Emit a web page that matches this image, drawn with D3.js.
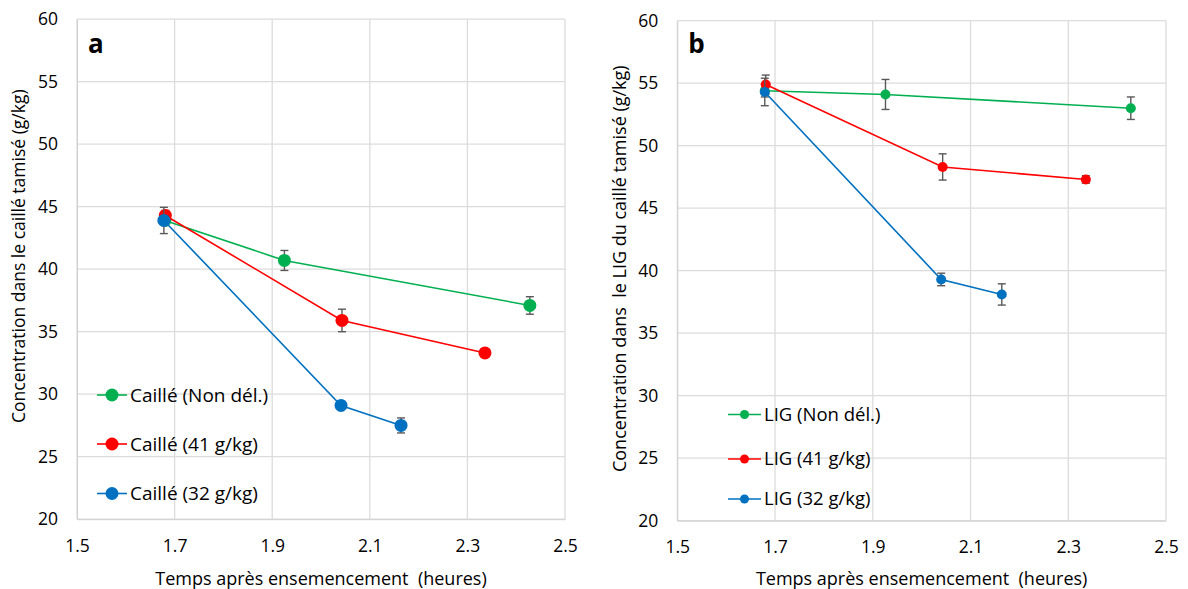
<!DOCTYPE html>
<html><head><meta charset="utf-8">
<script src="https://cdn.jsdelivr.net/npm/d3@7"></script>
<style>body{margin:0;background:#fff}svg{display:block}text{font-family:"Open Sans",sans-serif;fill:#000}</style>
</head><body>
<svg id="chart" width="1188" height="589"></svg>
<script>
// ---- data ----
const xTicks = [1.5, 1.7, 1.9, 2.1, 2.3, 2.5];
const yTicks = [20, 25, 30, 35, 40, 45, 50, 55, 60];
const seriesColors = ["#00b050", "#ff0000", "#0070c0"];

// Panel a : Caillé
const labelsA = ["Caillé (Non dél.)", "Caillé (41 g/kg)", "Caillé (32 g/kg)"];
const timesA_non = [1.680, 1.925, 2.428];
const valsA_non  = [43.9, 40.7, 37.1];
const errA_non   = [0.4, 0.8, 0.7];
const timesA_41  = [1.681, 2.043, 2.336];
const valsA_41   = [44.3, 35.9, 33.3];
const errA_41    = [0.4, 0.9, 0.3];
const timesA_32  = [1.678, 2.041, 2.164];
const valsA_32   = [43.9, 29.1, 27.5];
const errA_32    = [1.05, 0.25, 0.6];

// Panel b : LIG
const labelsB = ["LIG (Non dél.)", "LIG (41 g/kg)", "LIG (32 g/kg)"];
const timesB_non = [1.679, 1.926, 2.428];
const valsB_non  = [54.4, 54.1, 53.0];
const errB_non   = [0.5, 1.2, 0.9];
const timesB_41  = [1.681, 2.043, 2.336];
const valsB_41   = [54.9, 48.3, 47.3];
const errB_41    = [0.75, 1.05, 0.3];
const timesB_32  = [1.679, 2.040, 2.164];
const valsB_32   = [54.3, 39.3, 38.1];
const errB_32    = [1.1, 0.5, 0.85];

const svg = d3.select("#chart");

function build(times, vals, errs){ return times.map((t,i)=>({x:t, y:vals[i], e:errs[i]})); }

function drawPanel(cfg){
  const g = svg.append("g");
  const x = d3.scaleLinear().domain([1.5, 2.5]).range([cfg.left, cfg.right]);
  const y = d3.scaleLinear().domain([20, 60]).range([cfg.bottom, cfg.top]);

  // grid
  g.append("g").selectAll("line.v").data(xTicks).join("line")
    .attr("x1", d=>x(d)).attr("x2", d=>x(d)).attr("y1", y(20)).attr("y2", y(60))
    .attr("stroke", "#dcdcdc").attr("stroke-width", 1.3);
  g.append("g").selectAll("line.h").data(yTicks).join("line")
    .attr("x1", x(1.5)).attr("x2", x(2.5)).attr("y1", d=>y(d)).attr("y2", d=>y(d))
    .attr("stroke", "#dcdcdc").attr("stroke-width", 1.3);

  // axes via d3
  const ax = g.append("g").attr("transform", `translate(0,${y(20)})`)
    .call(d3.axisBottom(x).tickValues(xTicks).tickFormat(d3.format(".1f")).tickSize(0).tickPadding(20));
  ax.select(".domain").attr("stroke", "#d0d0d0");
  ax.selectAll("text").attr("font-size", 17.5).attr("font-family", "Open Sans").attr("fill", "#000");
  const ay = g.append("g").attr("transform", `translate(${x(1.5)},0)`)
    .call(d3.axisLeft(y).tickValues(yTicks).tickSize(0).tickPadding(19));
  ay.select(".domain").attr("stroke", "#d0d0d0");
  ay.selectAll("text").attr("font-size", 17.5).attr("font-family", "Open Sans").attr("fill", "#000");

  // axis titles
  g.append("text").attr("x", (cfg.left+cfg.right)/2).attr("y", 585)
    .attr("text-anchor", "middle").attr("font-size", 18).attr("xml:space", "preserve")
    .text("Temps après ensemencement  (heures)");
  g.append("text").attr("transform", `translate(${cfg.ytx},${(cfg.top+cfg.bottom)/2 + cfg.ytdy}) rotate(-90)`)
    .attr("text-anchor", "middle").attr("font-size", cfg.ytFont).attr("xml:space", "preserve").text(cfg.ytitle);

  // panel letter
  g.append("text").attr("x", cfg.left + 11).attr("y", 53).attr("font-size", 26).attr("font-weight", "bold").text(cfg.letter);

  // series
  const line = d3.line().x(d=>x(d.x)).y(d=>y(d.y));
  cfg.series.forEach((s, i) => {
    const sg = g.append("g");
    sg.append("path").datum(s).attr("d", line).attr("fill", "none")
      .attr("stroke", seriesColors[i]).attr("stroke-width", 1.6);
    const eb = sg.selectAll("g.eb").data(s).join("g").attr("stroke", "#595959").attr("stroke-width", 1.4);
    eb.append("line").attr("x1", d=>x(d.x)).attr("x2", d=>x(d.x)).attr("y1", d=>y(d.y-d.e)).attr("y2", d=>y(d.y+d.e));
    eb.append("line").attr("x1", d=>x(d.x)-4).attr("x2", d=>x(d.x)+4).attr("y1", d=>y(d.y-d.e)).attr("y2", d=>y(d.y-d.e));
    eb.append("line").attr("x1", d=>x(d.x)-4).attr("x2", d=>x(d.x)+4).attr("y1", d=>y(d.y+d.e)).attr("y2", d=>y(d.y+d.e));
    sg.selectAll("circle").data(s).join("circle").attr("cx", d=>x(d.x)).attr("cy", d=>y(d.y))
      .attr("r", cfg.r).attr("fill", seriesColors[i]);
  });

  // legend
  cfg.labels.forEach((lab, i) => {
    const ly = cfg.legY[i];
    g.append("line").attr("x1", cfg.legX).attr("x2", cfg.legX + cfg.legW).attr("y1", ly).attr("y2", ly)
      .attr("stroke", seriesColors[i]).attr("stroke-width", 1.6);
    g.append("circle").attr("cx", cfg.legX + cfg.legW/2).attr("cy", ly).attr("r", cfg.legR).attr("fill", seriesColors[i]);
    g.append("text").attr("x", cfg.legX + cfg.legW + 3).attr("y", ly).attr("dy", "0.35em")
      .attr("font-size", cfg.legFont).text(lab);
  });
}

drawPanel({
  left: 77, right: 565, top: 19.2, bottom: 519.2, letter: "a",
  ytitle: "Concentration dans le caillé tamisé (g/kg)", ytx: 25, ytdy: -13, ytFont: 17.5,
  series: [build(timesA_non, valsA_non, errA_non), build(timesA_41, valsA_41, errA_41), build(timesA_32, valsA_32, errA_32)],
  r: 6.5, labels: labelsA, legX: 97, legW: 30, legR: 6.5, legY: [395, 444, 493.5], legFont: 19
});
drawPanel({
  left: 677.3, right: 1166, top: 20.7, bottom: 520.7, letter: "b",
  ytitle: "Concentration dans  le LIG du caillé tamisé (g/kg)", ytx: 626, ytdy: -2, ytFont: 18,
  series: [build(timesB_non, valsB_non, errB_non), build(timesB_41, valsB_41, errB_41), build(timesB_32, valsB_32, errB_32)],
  r: 5, labels: labelsB, legX: 728, legW: 33, legR: 4.5, legY: [414.5, 459, 499], legFont: 18.5
});
</script>
</body></html>
